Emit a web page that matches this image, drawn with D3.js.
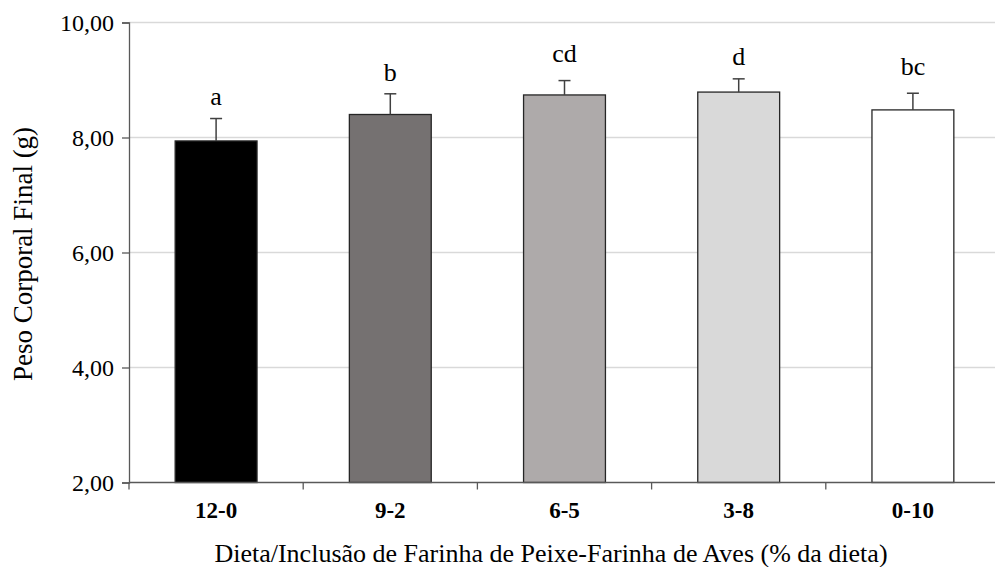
<!DOCTYPE html>
<html><head><meta charset="utf-8">
<script src="https://cdn.jsdelivr.net/npm/d3@7"></script>
<style>html,body{margin:0;padding:0;background:#fff;overflow:hidden}svg{display:block}</style>
</head><body>
<svg id="c" width="995" height="567"></svg>
<script>
const categories = ["12-0", "9-2", "6-5", "3-8", "0-10"];
const means = [7.94, 8.40, 8.74, 8.79, 8.48];
const errors = [0.39, 0.36, 0.25, 0.23, 0.29];
const letters = ["a", "b", "cd", "d", "bc"];
const letterPos = [8.57, 8.98, 9.31, 9.26, 9.09];
const colors = ["#000000", "#757171", "#aeaaaa", "#d9d9d9", "#ffffff"];
const yTicks = [2, 4, 6, 8, 10];
const yTitle = "Peso Corporal Final (g)";
const xTitle = "Dieta/Inclusão de Farinha de Peixe-Farinha de Aves (% da dieta)";

(function () {
const svg = d3.select("#c");
const font = "'Liberation Serif','Times New Roman',serif";
const pLeft = 129, pRight = 1000, pTop = 22.5, pBottom = 482.5;

const x = d3.scaleBand().domain(categories).range([pLeft, pRight]).paddingInner(0.53).paddingOuter(0.265);
const y = d3.scaleLinear().domain([2, 10]).range([pBottom, pTop]);

// gridlines
svg.append("g").selectAll("line").data(yTicks.filter(t => t > 2)).join("line")
  .attr("x1", pLeft).attr("x2", pRight).attr("y1", d => y(d)).attr("y2", d => y(d))
  .attr("stroke", "#d9d9d9").attr("stroke-width", 1.5);

// y axis
const yAxis = svg.append("g").attr("transform", `translate(${pLeft},0)`)
  .call(d3.axisLeft(y).tickValues(yTicks).tickSize(7).tickPadding(8)
    .tickFormat(d => d.toFixed(2).replace(".", ",")));
yAxis.select(".domain").attr("stroke", "#595959").attr("stroke-width", 1.3);
yAxis.selectAll(".tick line").attr("stroke", "#595959").attr("stroke-width", 1.3);
yAxis.selectAll(".tick text").attr("font-family", font).attr("font-size", 24).attr("fill", "#000");

// bars
svg.append("g").selectAll("rect").data(categories).join("rect")
  .attr("x", d => x(d)).attr("width", x.bandwidth())
  .attr("y", (d, i) => y(means[i])).attr("height", (d, i) => pBottom - y(means[i]))
  .attr("fill", (d, i) => colors[i]).attr("stroke", "#262626").attr("stroke-width", 1.3);

// error bars (upper only)
const eg = svg.append("g").attr("stroke", "#404040").attr("stroke-width", 1.5);
categories.forEach((c, i) => {
  const cx = x(c) + x.bandwidth() / 2;
  eg.append("line").attr("x1", cx).attr("x2", cx).attr("y1", y(means[i])).attr("y2", y(means[i] + errors[i]));
  eg.append("line").attr("x1", cx - 6).attr("x2", cx + 6).attr("y1", y(means[i] + errors[i])).attr("y2", y(means[i] + errors[i]));
});

// letters
svg.append("g").selectAll("text").data(categories).join("text")
  .attr("x", d => x(d) + x.bandwidth() / 2)
  .attr("y", (d, i) => y(letterPos[i]))
  .attr("text-anchor", "middle").attr("font-family", font).attr("font-size", 26)
  .text((d, i) => letters[i]);

// x axis
const xg = svg.append("g");
xg.append("line").attr("x1", pLeft).attr("x2", pRight).attr("y1", pBottom).attr("y2", pBottom)
  .attr("stroke", "#595959").attr("stroke-width", 1.3);
xg.selectAll("line.tk").data(d3.range(categories.length + 1)).join("line").attr("class", "tk")
  .attr("x1", i => pLeft + i * x.step()).attr("x2", i => pLeft + i * x.step())
  .attr("y1", pBottom).attr("y2", pBottom + 7).attr("stroke", "#595959").attr("stroke-width", 1.3);
xg.selectAll("text").data(categories).join("text")
  .attr("x", d => x(d) + x.bandwidth() / 2).attr("y", 518)
  .attr("text-anchor", "middle").attr("font-family", font).attr("font-size", 23).attr("font-weight", "bold")
  .text(d => d);

// titles
svg.append("text").attr("x", 551).attr("y", 562).attr("text-anchor", "middle")
  .attr("font-family", font).attr("font-size", 26).text(xTitle);
svg.append("text").attr("transform", `translate(32,254) rotate(-90)`).attr("text-anchor", "middle")
  .attr("font-family", font).attr("font-size", 27).text(yTitle);
})();
</script>
</body></html>
